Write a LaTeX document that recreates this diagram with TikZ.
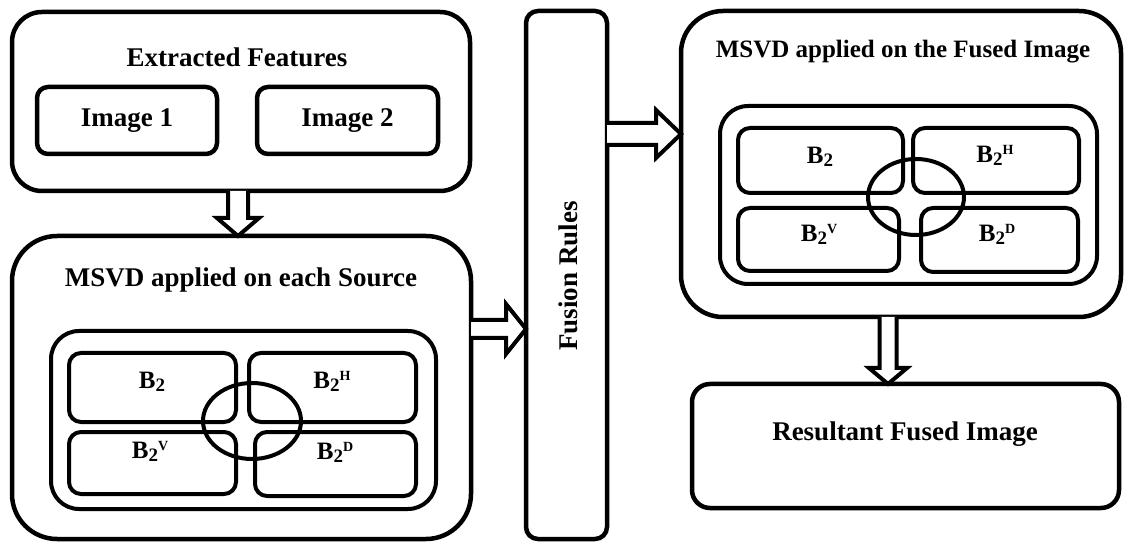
\documentclass[tikz,border=0pt]{standalone}
\usepackage{fontspec}
\setmainfont{Liberation Serif}
\usetikzlibrary{calc,shapes.geometric}

% B_2 with an optional raised band letter
\newcommand\bsub[1]{B\raisebox{-3pt}{\fontsize{19}{19}\selectfont 2}\raisebox{8pt}{\fontsize{14}{14}\selectfont #1}}

\begin{document}
\begin{tikzpicture}[x=1pt,y=-1pt,
  every node/.style={inner sep=0pt,outer sep=0pt},
  frame/.style={draw,line width=4.5pt,fill=white,rectangle},
  bigbox/.style={frame,rounded corners=40pt},
  holder/.style={frame,line width=4pt,rounded corners=28pt,fill=none},
  cell/.style={draw,line width=4pt,rectangle,rounded corners=12pt},
  smallbox/.style={frame,line width=4.5pt,rounded corners=11pt},
  ring/.style={draw,line width=4pt,ellipse,minimum width=98pt,minimum height=76pt},
  title/.style={font=\bfseries\fontsize{27}{30}\selectfont},
  blab/.style={font=\bfseries\fontsize{25}{28}\selectfont},
  blk/.style={draw,line width=4pt,fill=white,line join=miter},
]
\useasboundingbox (0,0) rectangle (1125,545);

% ---- extracted features ----
\node[bigbox,rounded corners=30pt,minimum width=458pt,minimum height=179pt] (ef) at (241,101.5) {};
\node[title] (eft) at (237,57) {Extracted Features};
\node[smallbox,minimum width=180pt,minimum height=67pt] (im1) at (127,120.5) {};
\node[title] at (im1.center) (im1t) {Image 1};
\node[smallbox,minimum width=181pt,minimum height=67pt] (im2) at (347.5,120.5) {};
\node[title] at (im2.center) (im2t) {Image 2};

% ---- MSVD on each source ----
\node[bigbox,rounded corners=45pt,minimum width=459pt,minimum height=303pt] (src) at (241.5,387.5) {};
\node[title] (srct) at (241,280) {MSVD applied on each Source};
\node[holder,minimum width=385pt,minimum height=178pt] (lh) at (243.5,420) {};
\node[cell,minimum width=167pt,minimum height=69pt] (lb) at (152.5,387.5) {};
\node[cell,minimum width=167pt,minimum height=69pt] (lbh) at (332.5,387.5) {};
\node[cell,minimum width=167pt,minimum height=62pt] (lbv) at (152.5,463) {};
\node[cell,minimum width=161pt,minimum height=64pt] (lbd) at (335.5,464) {};
\node[ring] (lr) at (252,421) {};
\node[blab] (lbt) at (152,382) {\bsub{}};
\node[blab] (lbht) at (332,381) {\bsub{H}};
\node[blab] (lbvt) at (150,451) {\bsub{V}};
\node[blab] (lbdt) at (335,452) {\bsub{D}};

% ---- fusion rules ----
\node[frame,rounded corners=12pt,minimum width=81pt,minimum height=528pt] (fr) at (566.5,275) {};
\node[title,rotate=90] (frt) at (568,276) {Fusion Rules};

% ---- MSVD on the fused image ----
\node[bigbox,rounded corners=42pt,minimum width=440pt,minimum height=306pt] (rb) at (901,164) {};
\node[title,font=\bfseries\fontsize{25}{28}\selectfont] (rbt) at (903,52) {MSVD applied on the Fused Image};
\node[holder,minimum width=377pt,minimum height=178pt] (rh) at (908.5,195) {};
\node[cell,minimum width=165pt,minimum height=65pt] (rbb) at (820.5,160.5) {};
\node[cell,minimum width=166pt,minimum height=65pt] (rbh) at (996,160.5) {};
\node[cell,minimum width=161pt,minimum height=63pt] (rbv) at (818.5,239.5) {};
\node[cell,minimum width=157pt,minimum height=64pt] (rbd) at (999.5,240) {};
\node[ring,minimum width=96pt] (rr) at (916,197) {};
\node[blab] (rbbt) at (820,157) {\bsub{}};
\node[blab] (rbht) at (995,155) {\bsub{H}};
\node[blab] (rbvt) at (819,234) {\bsub{V}};
\node[blab] (rbdt) at (997,234) {\bsub{D}};

% ---- result ----
\node[frame,rounded corners=18pt,minimum width=427pt,minimum height=124pt] (res) at (905.5,446) {};
\node[title] (rest) at (905,434) {Resultant Fused Image};

% ---- hollow block arrows ----
% features -> source (downwards)
\draw[blk] let \p1=($(ef.south)+(-3,0)$), \p2=($(src.north)+(-3,0)$) in
  (\x1-10pt,\y1) -- (\x1-10pt,\y2+18pt) -- (\x1-21pt,\y2+18pt) -- (\x1,\y2)
  -- (\x1+21pt,\y2+18pt) -- (\x1+10pt,\y2+18pt) -- (\x1+10pt,\y1);
% source -> fusion rules
\draw[blk] let \p1=($(src.east)+(0,-58.5)$), \p2=(fr.west) in
  (\x1,\y1+9pt) -- (\x2-20pt,\y1+9pt) -- (\x2-20pt,\y1+25pt) -- (\x2,\y1)
  -- (\x2-20pt,\y1-25pt) -- (\x2-20pt,\y1-9pt) -- (\x1,\y1-9pt);
% fusion rules -> fused image
\draw[blk] let \p1=($(fr.east)+(0,-141)$), \p2=($(rb.west)+(0,-30)$) in
  (\x1,\y1+11pt) -- (\x2-25pt,\y1+11pt) -- (\x2-25pt,\y1+24pt) -- (\x2,\y1)
  -- (\x2-25pt,\y1-24pt) -- (\x2-25pt,\y1-11pt) -- (\x1,\y1-11pt);
% fused image -> result (downwards)
\draw[blk] let \p1=($(rb.south)+(-13,0)$), \p2=($(res.north)+(-17.5,0)$) in
  (\x1-8.5pt,\y1) -- (\x1-8.5pt,\y2+16pt) -- (\x1-19pt,\y2+16pt) -- (\x1,\y2)
  -- (\x1+19pt,\y2+16pt) -- (\x1+8.5pt,\y2+16pt) -- (\x1+8.5pt,\y1);
\end{tikzpicture}
\end{document}
